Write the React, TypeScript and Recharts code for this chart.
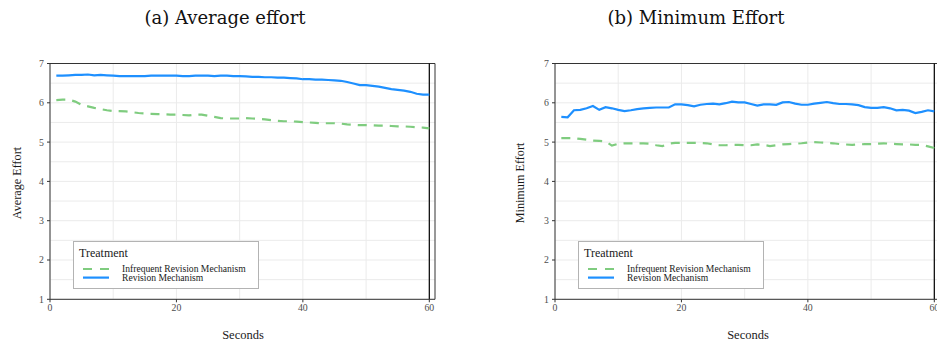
import React from 'react';
import { LineChart, Line, XAxis, YAxis, CartesianGrid, ReferenceLine, Legend } from 'recharts';

const seconds = [1,2,3,4,5,6,7,8,9,10,11,12,13,14,15,16,17,18,19,20,21,22,23,24,25,26,27,28,29,30,31,32,33,34,35,36,37,38,39,40,41,42,43,44,45,46,47,48,49,50,51,52,53,54,55,56,57,58,59,60];

const avgRevision = [6.69,6.69,6.70,6.71,6.71,6.72,6.70,6.71,6.70,6.69,6.68,6.68,6.68,6.68,6.68,6.69,6.69,6.69,6.69,6.69,6.68,6.68,6.69,6.69,6.69,6.68,6.69,6.69,6.68,6.68,6.67,6.66,6.66,6.65,6.65,6.64,6.64,6.63,6.62,6.60,6.60,6.59,6.59,6.58,6.57,6.56,6.53,6.49,6.45,6.45,6.43,6.41,6.38,6.35,6.33,6.31,6.28,6.23,6.21,6.21];
const avgInfrequent = [6.07,6.08,6.08,6.03,5.95,5.91,5.87,5.84,5.81,5.79,5.79,5.78,5.76,5.74,5.73,5.72,5.71,5.71,5.70,5.70,5.69,5.68,5.70,5.70,5.67,5.64,5.61,5.60,5.60,5.60,5.61,5.60,5.59,5.58,5.56,5.54,5.53,5.53,5.52,5.51,5.50,5.49,5.48,5.48,5.48,5.47,5.45,5.44,5.43,5.43,5.43,5.42,5.42,5.41,5.40,5.40,5.39,5.38,5.37,5.35];

const minRevision = [5.64,5.63,5.81,5.82,5.86,5.92,5.82,5.89,5.86,5.82,5.79,5.81,5.84,5.86,5.87,5.88,5.88,5.88,5.96,5.96,5.94,5.91,5.95,5.97,5.98,5.96,5.99,6.03,6.01,6.01,5.97,5.93,5.96,5.96,5.95,6.01,6.02,5.98,5.95,5.95,5.98,6.00,6.02,5.99,5.97,5.97,5.96,5.94,5.89,5.87,5.87,5.89,5.86,5.81,5.82,5.80,5.74,5.77,5.81,5.78];
const minInfrequent = [5.10,5.10,5.10,5.08,5.06,5.04,5.03,5.02,4.91,4.96,4.97,4.97,4.97,4.97,4.96,4.92,4.90,4.96,4.98,4.98,4.98,4.98,4.98,4.97,4.94,4.92,4.92,4.93,4.93,4.92,4.92,4.94,4.93,4.90,4.92,4.94,4.95,4.96,4.97,4.99,5.00,4.99,4.98,4.97,4.95,4.94,4.93,4.94,4.95,4.95,4.96,4.97,4.96,4.95,4.94,4.94,4.93,4.93,4.89,4.85];

const xTicks = [0, 20, 40, 60];
const yTicks = [1, 2, 3, 4, 5, 6, 7];
const xGrid = [0, 10, 20, 30, 40, 50, 60];
const yGrid = [1, 1.5, 2, 2.5, 3, 3.5, 4, 4.5, 5, 5.5, 6, 6.5, 7];

const seriesNames = { inf: 'Infrequent Revision Mechanism', rev: 'Revision Mechanism' };
const GREEN = '#7FCC7F';
const BLUE = '#1E90FF';
const SERIF = '"Liberation Serif", "DejaVu Serif", serif';
const TITLE_FONT = '"DejaVu Serif", serif';

const avgData = seconds.map((s, i) => ({ s, inf: avgInfrequent[i], rev: avgRevision[i] }));
const minData = seconds.map((s, i) => ({ s, inf: minInfrequent[i], rev: minRevision[i] }));

const LegendBox = (props: any) => {
  const payload = (props.payload || []) as any[];
  return (
    <svg width={186} height={48} style={{ display: 'block' }}>
      <rect x={0.5} y={0.5} width={185} height={47} fill="#fff" stroke="#b3b3b3" strokeWidth={1} />
      <text x={6} y={16} fontFamily={SERIF} fontSize={12} fill="#1a1a1a">Treatment</text>
      {payload.map((p: any, i: number) => (
        <g key={i}>
          <line x1={10} x2={36} y1={28 + i * 8.6} y2={28 + i * 8.6} stroke={p.color}
            strokeWidth={2.2} strokeDasharray={i === 0 ? '9 8' : undefined} />
          <text x={49} y={31 + i * 9} fontFamily={SERIF} fontSize={9.6} fill="#1a1a1a">{p.value}</text>
        </g>
      ))}
    </svg>
  );
};

const Panel = ({ data, left }: { data: any[]; left: number }) => (
  <div style={{ position: 'absolute', left, top: 0 }}>
    <LineChart width={470} height={348} data={data} margin={{ top: 63.5, right: 35, bottom: 0, left: 0 }}>
      <CartesianGrid stroke="#ebebeb" strokeWidth={1}
        horizontalValues={yGrid} verticalValues={xGrid} />
      <XAxis dataKey="s" type="number" domain={[0, 60.9]} ticks={xTicks} allowDataOverflow interval={0}
        height={48.7} tickSize={3} tickMargin={2}
        axisLine={{ stroke: '#333', strokeWidth: 1 }} tickLine={{ stroke: '#333' }}
        tick={{ fontSize: 9.8, fill: '#4d4d4d', fontFamily: SERIF }} />
      <YAxis type="number" domain={[1, 7]} ticks={yTicks} allowDataOverflow interval={0}
        width={50} tickSize={3} tickMargin={3}
        axisLine={{ stroke: '#333', strokeWidth: 1 }} tickLine={{ stroke: '#333' }}
        tick={{ fontSize: 9.8, fill: '#4d4d4d', fontFamily: SERIF }} />
      <ReferenceLine y={7} stroke="#333" strokeWidth={1} />
      <ReferenceLine x={60.9} stroke="#333" strokeWidth={1} />
      <ReferenceLine x={60} stroke="#000" strokeWidth={1.2} />
      <Line type="linear" dataKey="inf" name={seriesNames.inf} stroke={GREEN} strokeWidth={2.2}
        strokeDasharray="9 7" dot={false} isAnimationActive={false} />
      <Line type="linear" dataKey="rev" name={seriesNames.rev} stroke={BLUE} strokeWidth={2.2}
        dot={false} isAnimationActive={false} />
      <Legend content={<LegendBox />} layout="horizontal" verticalAlign="middle" align="center"
        wrapperStyle={{ left: 73, top: 240.7, bottom: 'auto', right: 'auto', width: 186, height: 48 }} />
    </LineChart>
  </div>
);

export default function App() {
  return (
    <div style={{ position: 'absolute', left: 0, top: 0, width: 937, height: 348, overflow: 'hidden', background: '#fff' }}>
      <Panel data={avgData} left={0} />
      <Panel data={minData} left={505} />
      <svg width={937} height={348} style={{ position: 'absolute', left: 0, top: 0, pointerEvents: 'none' }}>
        <text x={225} y={24} textAnchor="middle" fontFamily={TITLE_FONT} fontSize={18} fill="#111">(a) Average effort</text>
        <text x={696} y={24} textAnchor="middle" fontFamily={TITLE_FONT} fontSize={18} fill="#111">(b) Minimum Effort</text>
        <text x={243} y={339} textAnchor="middle" fontFamily={SERIF} fontSize={12.5} fill="#1a1a1a">Seconds</text>
        <text x={748} y={339} textAnchor="middle" fontFamily={SERIF} fontSize={12.5} fill="#1a1a1a">Seconds</text>
        <text transform="translate(21,183) rotate(-90)" textAnchor="middle" fontFamily={SERIF} fontSize={12.2} fill="#1a1a1a">Average Effort</text>
        <text transform="translate(524,183) rotate(-90)" textAnchor="middle" fontFamily={SERIF} fontSize={12.2} fill="#1a1a1a">Minimum Effort</text>
      </svg>
    </div>
  );
}
